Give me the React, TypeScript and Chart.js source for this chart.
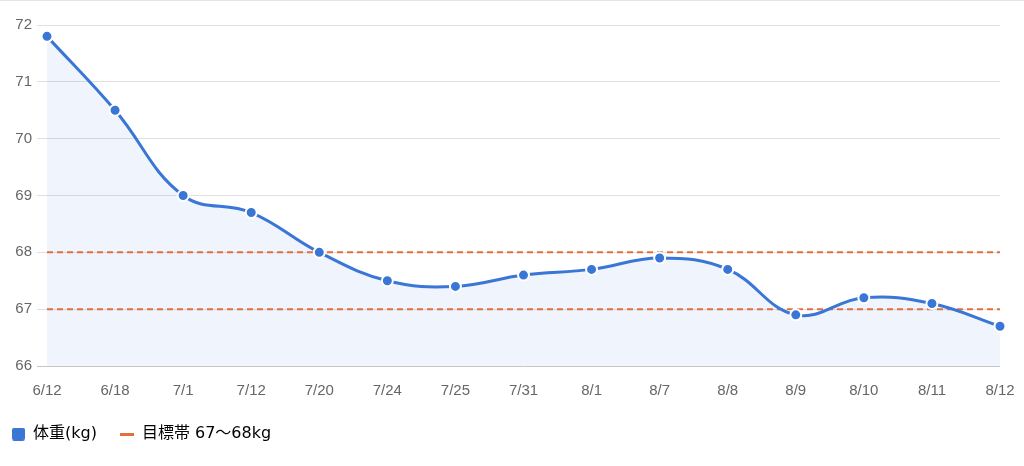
import React, { useEffect, useRef } from 'react';
import { Chart, registerables } from 'chart.js';

Chart.register(...registerables);

const dates = ['6/12', '6/18', '7/1', '7/12', '7/20', '7/24', '7/25', '7/31', '8/1', '8/7', '8/8', '8/9', '8/10', '8/11', '8/12'];
const weights = [71.8, 70.5, 69.0, 68.7, 68.0, 67.5, 67.4, 67.6, 67.7, 67.9, 67.7, 66.9, 67.2, 67.1, 66.7];
const targetLow = 67;
const targetHigh = 68;
const yMin = 66;
const yMax = 72;
const weightLabel = '体重(kg)';
const targetLabel = '目標帯 67〜68kg';

const BLUE = '#3a76d6';
const ORANGE = '#e2703c';
const FONT = "'Liberation Sans', Arial, 'Noto Sans CJK JP', sans-serif";
const LEGEND_FONT = "'DejaVu Sans', 'Noto Sans CJK JP', sans-serif";

export default function App() {
  const ref = useRef<HTMLCanvasElement>(null);

  useEffect(() => {
    document.body.style.margin = '0';
    const boxImg = document.createElement('canvas');
    boxImg.width = 13;
    boxImg.height = 13;
    const bctx = boxImg.getContext('2d')!;
    bctx.fillStyle = BLUE;
    bctx.beginPath();
    (bctx as any).roundRect(0, 0, 13, 13, 2.5);
    bctx.fill();

    const lineImg = document.createElement('canvas');
    lineImg.width = 14;
    lineImg.height = 3;
    const lctx = lineImg.getContext('2d')!;
    lctx.fillStyle = ORANGE;
    lctx.fillRect(0, 0, 14, 3);

    const first = dates[0];
    const last = dates[dates.length - 1];

    const chart = new Chart(ref.current!, {
      type: 'line',
      data: {
        labels: dates,
        datasets: [
          {
            label: weightLabel,
            data: weights,
            borderColor: BLUE,
            backgroundColor: 'rgba(58,118,214,0.08)',
            fill: 'start',
            borderWidth: 3,
            tension: 0.4,
            pointRadius: 5.5,
            pointBackgroundColor: BLUE,
            pointBorderColor: '#ffffff',
            pointBorderWidth: 2,
          },
          {
            label: targetLabel,
            data: [{ x: first, y: targetHigh }, { x: last, y: targetHigh }] as any,
            borderColor: ORANGE,
            borderWidth: 2,
            borderDash: [6, 4],
            pointRadius: 0,
            fill: false,
            tension: 0,
          },
          {
            label: 'low',
            data: [{ x: first, y: targetLow }, { x: last, y: targetLow }] as any,
            borderColor: ORANGE,
            borderWidth: 2,
            borderDash: [6, 4],
            pointRadius: 0,
            fill: false,
            tension: 0,
          },
        ],
      },
      options: {
        responsive: false,
        animation: false,
        layout: { padding: { left: -12, right: 24, top: 25, bottom: 14 } },
        plugins: {
          filler: { drawTime: 'beforeDatasetsDraw' } as any,
          tooltip: { enabled: false },
          legend: {
            position: 'bottom',
            align: 'start',
            labels: {
              usePointStyle: true,
              boxWidth: 13,
              boxHeight: 13,
              padding: 24,
              color: '#333333',
              font: { family: LEGEND_FONT, size: 16 },
              generateLabels: () => [
                { text: weightLabel, pointStyle: boxImg as any, fillStyle: BLUE, strokeStyle: BLUE, lineWidth: 0, hidden: false, datasetIndex: 0 } as any,
                { text: targetLabel, pointStyle: lineImg as any, fillStyle: ORANGE, strokeStyle: ORANGE, lineWidth: 0, hidden: false, datasetIndex: 1 } as any,
              ],
            },
          },
        },
        scales: {
          x: {
            type: 'category',
            offset: false,
            grid: { display: false, drawTicks: false },
            border: { display: false },
            ticks: {
              color: '#666666',
              font: { family: FONT, size: 15 },
              padding: 16,
              maxRotation: 0,
              autoSkip: false,
            },
            afterFit: (s: any) => { s.height = 36; s.paddingLeft = 0; s.paddingRight = 0; },
          },
          y: {
            min: yMin,
            max: yMax,
            grid: {
              color: (c: any) => (c.tick && c.tick.value === yMin ? '#c6c6c6' : '#e0e0e0'),
              tickLength: 10,
              lineWidth: 1,
            },
            border: { display: false },
            ticks: {
              stepSize: 1,
              color: '#666666',
              font: { family: FONT, size: 15 },
              padding: 5,
            },
            afterFit: (s: any) => { s.width = 59; },
          },
        },
      },
    });
    return () => chart.destroy();
  }, []);

  return (
    <div style={{ position: 'relative', width: 1024, height: 466, background: '#ffffff' }}>
      <canvas ref={ref} width={1024} height={466} style={{ display: 'block', width: 1024, height: 466 }} />
      <div style={{ position: 'absolute', left: 0, top: 0, width: 1024, height: 1, background: '#e4e4e4' }} />
    </div>
  );
}
